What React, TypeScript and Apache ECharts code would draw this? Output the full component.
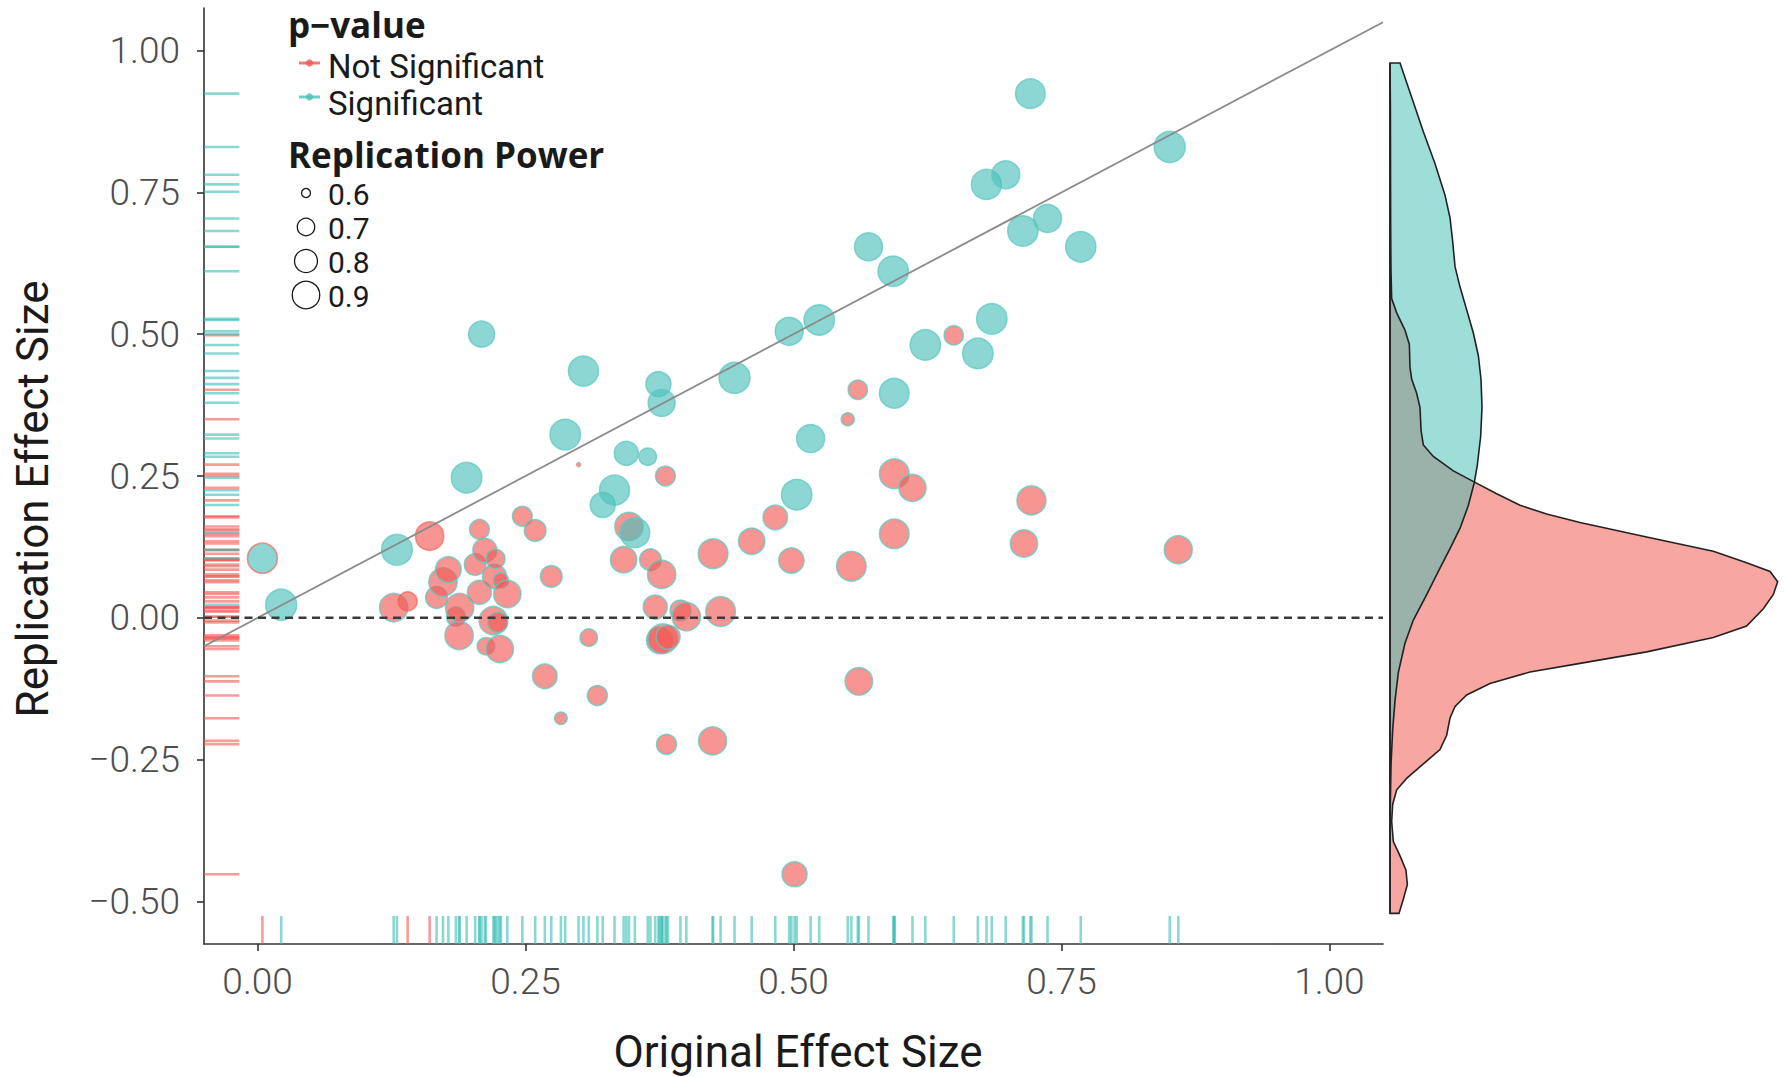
import React, { useEffect, useRef } from "react";
import * as echarts from "echarts";

// ---- Studies whose replication reached p < .05 ----
// null original effect: replication value only (drawn on the left rug)
const sigOriginalEffect = [
  0.0045, 0.022, 0.13, 0.195, 0.209, 0.287, 0.304, 0.322, 0.333, 0.344, 0.352,
  0.364, 0.374, 0.377, 0.445, 0.496, 0.503, 0.516, 0.524, 0.57, 0.593, 0.594,
  0.623, 0.672, 0.68, 0.685, 0.698, 0.714, 0.721, 0.737, 0.768, 0.851, null,
];
const sigReplicationEffect = [
  0.105, 0.023, 0.12, 0.247, 0.5, 0.323, 0.435, 0.199, 0.225, 0.29, 0.15,
  0.284, 0.412, 0.379, 0.423, 0.505, 0.217, 0.316, 0.525, 0.654, 0.611, 0.396,
  0.481, 0.466, 0.764, 0.527, 0.781, 0.682, 0.924, 0.704, 0.654, 0.83, 0.751,
];
const sigPower = [
  0.963, 0.99, 0.982, 0.977, 0.865, 0.977, 0.963, 0.842, 0.963, 0.821, 0.955,
  0.699, 0.842, 0.888, 0.99, 0.912, 0.974, 0.912, 0.974, 0.912, 0.971, 0.953,
  0.974, 0.974, 0.963, 0.974, 0.912, 0.971, 0.95, 0.912, 0.971, 0.99, null,
];
const sigOriginalSignificant = [
  false, true, true, true, true, true, true, true, true, true, true,
  true, true, true, true, true, true, true, true, true, true, true,
  true, true, true, true, true, true, true, true, true, true, true,
];

// ---- Studies whose replication did not reach p < .05 ----
const nsOriginalEffect = [
  0.127, 0.14, 0.1605, 0.167, 0.173, 0.178, 0.185, 0.188, 0.1885, 0.203, 0.207,
  0.207, 0.212, 0.213, 0.22, 0.221, 0.222, 0.224, 0.226, 0.227, 0.233, 0.247,
  0.259, 0.268, 0.274, 0.283, 0.2995, 0.309, 0.317, 0.3415, 0.3465, 0.3665,
  0.371, 0.375, 0.377, 0.378, 0.3805, 0.3815, 0.383, 0.3945, 0.4, 0.425, 0.4245,
  0.432, 0.461, 0.483, 0.498, 0.501, 0.5506, 0.554, 0.56, 0.561, 0.594, 0.594,
  0.611, 0.6495, 0.715, 0.722, 0.859,
];
const nsReplicationEffect = [
  0.018, 0.029, 0.144, 0.036, 0.063, 0.085, 0.002, -0.031, 0.018, 0.094, 0.156,
  0.045, 0.119, -0.05, -0.005, 0.073, 0.104, -0.008, -0.055, 0.066, 0.042, 0.179,
  0.154, -0.103, 0.073, -0.177, 0.27, -0.035, -0.137, 0.1025, 0.161, 0.1025,
  0.019, -0.04, 0.0765, -0.037, 0.25, -0.223, -0.034, 0.013, 0.002, 0.113, -0.217,
  0.011, 0.135, 0.177, 0.101, -0.452, 0.35, 0.091, 0.402, -0.112, 0.254, 0.148,
  0.229, 0.498, 0.131, 0.207, 0.12,
];
const nsPower = [
  0.92, 0.726, 0.92, 0.78, 0.92, 0.858, 0.726, 0.92, 0.92, 0.774, 0.738,
  0.821, 0.821, 0.699, 0.92, 0.821, 0.726, 0.743, 0.895, 0.665, 0.895, 0.738,
  0.774, 0.832, 0.774, 0.634, 0.574, 0.7, 0.743, 0.872, 0.92, 0.774,
  0.821, 0.865, 0.92, 0.955, 0.738, 0.743, 0.821, 0.756, 0.92, 0.955, 0.912,
  0.955, 0.872, 0.832, 0.849, 0.842, 0.64, 0.953, 0.731, 0.9, 0.953, 0.953,
  0.888, 0.731, 0.895, 0.937, 0.912,
];
const nsOriginalSignificant = nsOriginalEffect.map(
  (_, i) => !(i === 1 || i === 2)
);

// ---- Density of the replication effect by group (density, effect) ----
const sigDensityValue = [
  0, 0.126, 0.272, 0.419, 0.565, 0.691, 0.754, 0.787, 0.817, 0.88, 0.963, 1.047,
  1.11, 1.143, 1.156, 1.139, 1.097, 1.06, 0.984, 0.88, 0.754, 0.607, 0.461, 0.293,
  0.188, 0.105, 0.063, 0.034, 0.013, 0.004, 0, 0,
];
const sigDensityAt = [
  0.978, 0.978, 0.9175, 0.857, 0.801, 0.745, 0.705, 0.664, 0.619, 0.583, 0.543,
  0.502, 0.462, 0.421, 0.371, 0.32, 0.269, 0.239, 0.198, 0.158, 0.122, 0.082,
  0.041, -0.004, -0.045, -0.096, -0.146, -0.197, -0.258, -0.329, -0.4, -0.521,
];
const nsDensityValue = [
  0, 0.005, 0.008, 0.012, 0.021, 0.084, 0.188, 0.243, 0.251, 0.272, 0.335, 0.377,
  0.39, 0.419, 0.544, 0.796, 1.068, 1.34, 1.633, 1.968, 2.387, 3.224, 4.062, 4.48,
  4.774, 4.87, 4.816, 4.69, 4.48, 4.062, 3.224, 2.387, 1.759, 1.256, 0.963, 0.817,
  0.754, 0.712, 0.628, 0.419, 0.209, 0.084, 0.034, 0.021, 0.042, 0.126, 0.201,
  0.218, 0.168, 0.113, 0,
];
const nsDensityAt = [
  0.978, 0.9, 0.7, 0.6136, 0.5629, 0.5376, 0.5072, 0.4819, 0.4413, 0.4211, 0.3958,
  0.3705, 0.33, 0.3047, 0.2844, 0.2591, 0.2388, 0.2186, 0.1983, 0.1831, 0.1679,
  0.1426, 0.1173, 0.097, 0.0818, 0.0636, 0.0413, 0.016, -0.0144, -0.0347, -0.06,
  -0.0803, -0.0955, -0.1158, -0.136, -0.1563, -0.1766, -0.207, -0.2323, -0.2576,
  -0.283, -0.3032, -0.3285, -0.359, -0.3944, -0.4197, -0.445, -0.4704, -0.4957,
  -0.521, -0.521,
];

const xTicks = [0, 0.25, 0.5, 0.75, 1];
const yTicks = [-0.5, -0.25, 0, 0.25, 0.5, 0.75, 1];
const powerLegend = [0.6, 0.7, 0.8, 0.9];
const groupLabels = ["Not Significant", "Significant"];

// ---- styling ----
const RED_FILL = "rgba(241, 89, 85, 0.8)";
const TEAL_FILL = "rgba(75, 192, 186, 0.8)";
const RED_RUG = "rgba(240, 90, 85, 0.6)";
const TEAL_RUG = "rgba(60, 190, 182, 0.6)";
const TEAL_EDGE = "rgba(95, 200, 194, 0.95)";
const SANS = "Roboto, 'Noto Sans', sans-serif";
const BOLD = "'Open Sans', Roboto, sans-serif";

// symbol diameter for a replication power value
const sizeOf = (p: number) =>
  -0.65 + 31.65 * Math.sqrt(Math.max(p - 0.56, 0) / 0.43);

const fmt = (v: number) => (v < 0 ? "\u2212" : "") + Math.abs(v).toFixed(2);

type Pt = { x: number | null; y: number; p: number | null; orig: boolean; sig: boolean };

function collect(): Pt[] {
  const out: Pt[] = [];
  nsOriginalEffect.forEach((x, i) =>
    out.push({ x, y: nsReplicationEffect[i], p: nsPower[i], orig: nsOriginalSignificant[i], sig: false })
  );
  sigOriginalEffect.forEach((x, i) =>
    out.push({ x, y: sigReplicationEffect[i], p: sigPower[i], orig: sigOriginalSignificant[i], sig: true })
  );
  return out;
}

function buildOption() {
  const pts = collect();
  const scatterData = (sig: boolean) =>
    pts
      .filter((d) => d.sig === sig && d.x !== null)
      .map((d) => ({
        value: [d.x, d.y, d.p],
        itemStyle: {
          color: sig ? TEAL_FILL : RED_FILL,
          borderColor: d.orig ? TEAL_EDGE : RED_FILL,
          borderWidth: sizeOf(d.p as number) < 10 ? 0.6 : 1.5,
        },
      }));

  const xRugData = pts.filter((d) => d.x !== null).map((d) => [d.x, d.y, d.orig ? 1 : 0]);
  const yRugData = pts.map((d) => [d.x === null ? 0 : d.x, d.y, d.sig ? 1 : 0]);

  const axisLine = { show: true, onZero: false, lineStyle: { color: "#333", width: 1.6 } };
  const axisTickBase = { show: true, length: 7, lineStyle: { color: "#333", width: 1.6 } };
  const labelBase = {
    fontSize: 37,
    fontFamily: SANS,
    fontWeight: 300 as any,
    color: "#4d4d4d",
    formatter: (v: number) => fmt(v),
  };

  const legendGraphics: any[] = [];
  const txt = (text: string, x: number, y: number, size: number, family: string, weight: any, fill: string) => ({
    type: "text",
    x,
    y,
    style: {
      text,
      fontSize: size,
      lineHeight: Math.round(size * 0.9),
      fontFamily: family,
      fontWeight: weight,
      fill,
      align: "left",
      verticalAlign: "middle",
    },
  });
  legendGraphics.push(txt("p\u2212value", 288, 24, 35, BOLD, "bold", "#1a1a1a"));
  const keyY = [63, 97];
  groupLabels.forEach((label, i) => {
    const col = i === 0 ? RED_FILL : TEAL_FILL;
    legendGraphics.push({
      type: "line",
      shape: { x1: 299, y1: keyY[i], x2: 320, y2: keyY[i] },
      style: { stroke: col, lineWidth: 3 },
    });
    legendGraphics.push({ type: "circle", shape: { cx: 309.5, cy: keyY[i], r: 3.6 }, style: { fill: col } });
    legendGraphics.push(txt(label, 328, keyY[i] + 3 + i * 3, 33, SANS, "normal", "#1a1a1a"));
  });
  legendGraphics.push(txt("Replication Power", 288, 154, 35, BOLD, "bold", "#1a1a1a"));
  powerLegend.forEach((p, i) => {
    const cy = 193 + i * 34;
    legendGraphics.push({
      type: "circle",
      shape: { cx: 306, cy, r: sizeOf(p) / 2 },
      style: { fill: "none", stroke: "#1a1a1a", lineWidth: 1.3 },
    });
    legendGraphics.push(txt(p.toFixed(1), 328, cy + 1, 30, SANS, "normal", "#1a1a1a"));
  });

  const titles = [
    {
      type: "text",
      x: 798,
      y: 1052,
      style: {
        text: "Original Effect Size",
        fontSize: 44,
        fontFamily: SANS,
        fill: "#1a1a1a",
        align: "center",
        verticalAlign: "middle",
      },
    },
    {
      type: "text",
      x: 33,
      y: 499,
      rotation: Math.PI / 2,
      style: {
        text: "Replication Effect Size",
        fontSize: 44,
        fontFamily: SANS,
        fill: "#1a1a1a",
        align: "center",
        verticalAlign: "middle",
      },
    },
  ];

  return {
    animation: false,
    backgroundColor: "#ffffff",
    grid: [
      { left: 204, top: 8, width: 1179, height: 936 },
      { left: 1390, top: 8, width: 398, height: 936 },
    ],
    xAxis: [
      {
        type: "value",
        gridIndex: 0,
        min: -0.05,
        max: 1.05,
        axisLine,
        axisTick: { ...axisTickBase, customValues: xTicks },
        axisLabel: { ...labelBase, margin: 19, customValues: xTicks },
        splitLine: { show: false },
      },
      { type: "value", gridIndex: 1, min: 0, max: 5, show: false, splitLine: { show: false } },
    ],
    yAxis: [
      {
        type: "value",
        gridIndex: 0,
        min: -0.575,
        max: 1.075,
        axisLine,
        axisTick: { ...axisTickBase, customValues: yTicks },
        axisLabel: { ...labelBase, margin: 24, customValues: yTicks },
        splitLine: { show: false },
      },
      { type: "value", gridIndex: 1, min: -0.575, max: 1.075, show: false, splitLine: { show: false } },
    ],
    graphic: [...legendGraphics, ...titles],
    series: [
      {
        type: "custom",
        name: "x rug",
        xAxisIndex: 0,
        yAxisIndex: 0,
        silent: true,
        z: 1,
        data: xRugData,
        renderItem: (params: any, api: any) => {
          const cs = params.coordSys;
          const px = api.coord([api.value(0), 0])[0];
          const base = cs.y + cs.height;
          return {
            type: "line",
            shape: { x1: px, y1: base, x2: px, y2: base - cs.height * 0.03 },
            style: { stroke: api.value(2) ? TEAL_RUG : RED_RUG, lineWidth: 2.6 },
          };
        },
      },
      {
        type: "custom",
        name: "y rug",
        xAxisIndex: 0,
        yAxisIndex: 0,
        silent: true,
        z: 1,
        data: yRugData,
        renderItem: (params: any, api: any) => {
          const cs = params.coordSys;
          const py = api.coord([0, api.value(1)])[1];
          return {
            type: "line",
            shape: { x1: cs.x, y1: py, x2: cs.x + cs.width * 0.03, y2: py },
            style: { stroke: api.value(2) ? TEAL_RUG : RED_RUG, lineWidth: 2.6 },
          };
        },
      },
      {
        type: "scatter",
        name: groupLabels[0],
        xAxisIndex: 0,
        yAxisIndex: 0,
        z: 2,
        symbolSize: (v: number[]) => sizeOf(v[2]),
        data: scatterData(false),
      },
      {
        type: "scatter",
        name: groupLabels[1],
        xAxisIndex: 0,
        yAxisIndex: 0,
        z: 2,
        symbolSize: (v: number[]) => sizeOf(v[2]),
        data: scatterData(true),
      },
      {
        type: "line",
        name: "identity",
        xAxisIndex: 0,
        yAxisIndex: 0,
        z: 3,
        silent: true,
        symbol: "none",
        data: [
          [-0.05, -0.05],
          [1.05, 1.05],
        ],
        lineStyle: { color: "#8a8a8a", width: 1.8 },
      },
      {
        type: "line",
        name: "zero",
        xAxisIndex: 0,
        yAxisIndex: 0,
        z: 3,
        silent: true,
        symbol: "none",
        data: [
          [-0.05, 0],
          [1.05, 0],
        ],
        lineStyle: { color: "#3a3a3a", width: 2.4, type: [8, 5.5] },
      },
      {
        type: "custom",
        name: "density",
        xAxisIndex: 1,
        yAxisIndex: 1,
        silent: true,
        data: [[0, 0]],
        renderItem: (params: any, api: any) => {
          if (params.dataIndex !== 0) return null;
          const ns = nsDensityValue.map((d, i) => api.coord([d, nsDensityAt[i]]));
          const sg = sigDensityValue.map((d, i) => api.coord([d, sigDensityAt[i]]));
          return {
            type: "group",
            children: [
              { type: "polygon", shape: { points: ns }, style: { fill: "rgba(242, 85, 75, 0.52)" } },
              { type: "polygon", shape: { points: sg }, style: { fill: "rgba(60, 190, 180, 0.5)" } },
              { type: "polygon", shape: { points: ns }, style: { fill: "none", stroke: "#222", lineWidth: 1.6 } },
              { type: "polygon", shape: { points: sg }, style: { fill: "none", stroke: "#222", lineWidth: 1.6 } },
            ],
          };
        },
      },
    ],
  };
}

export default function App() {
  const ref = useRef<HTMLDivElement>(null);
  useEffect(() => {
    if (!ref.current) return;
    const chart = echarts.init(ref.current, undefined, { renderer: "svg" });
    chart.setOption(buildOption() as any);
    return () => chart.dispose();
  }, []);
  return (
    <div
      ref={ref}
      style={{ position: "absolute", left: 0, top: 0, width: 1788, height: 1077, background: "#fff" }}
    />
  );
}
